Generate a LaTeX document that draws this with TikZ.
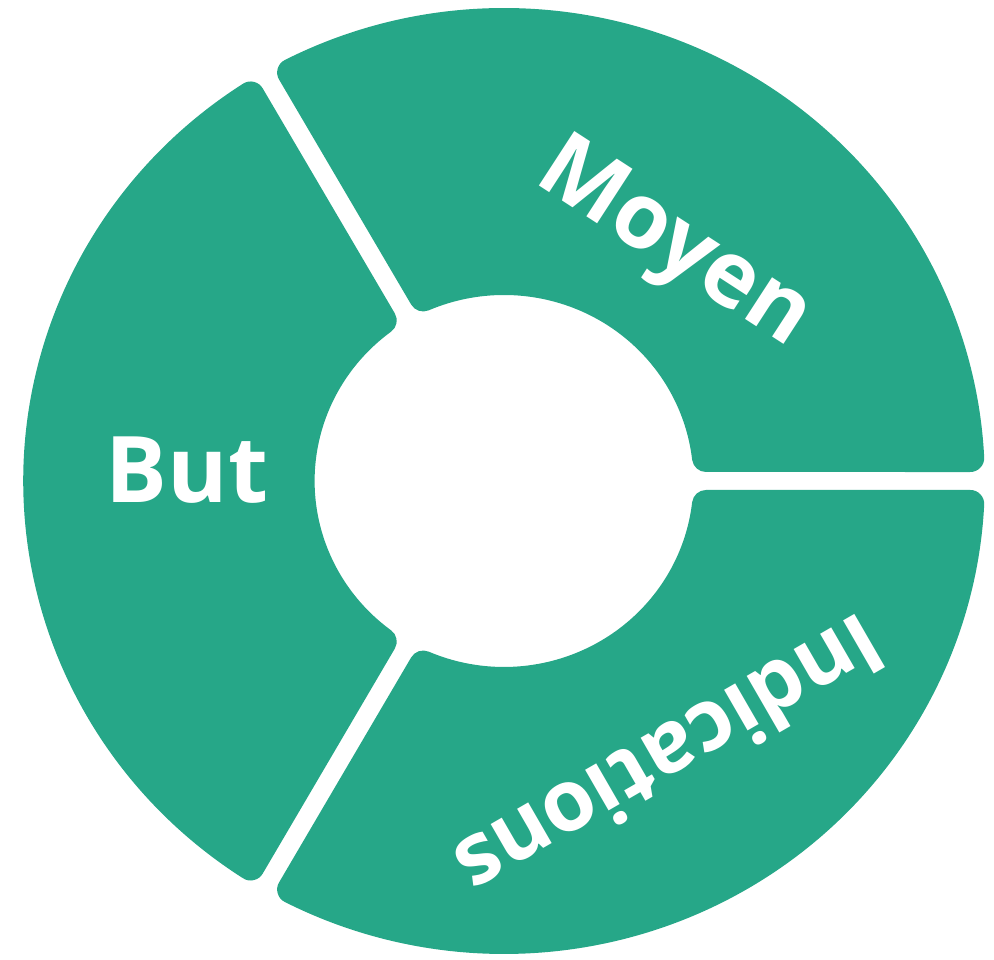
\documentclass[tikz,border=0pt]{standalone}
\usepackage{fontspec}
\setmainfont{Open Sans}
\definecolor{segcol}{RGB}{38,167,136}
\tikzset{
  segment/.style={fill=segcol, draw=segcol, line width=28pt, line join=round},
  lbl/.style={text=white, font=\fontsize{92}{92}\selectfont\bfseries, inner sep=0pt}
}
\def\Ro{459}
\def\Ri{200}
\def\dd{23}
\def\donutseg#1#2{%
  \path[segment] ({#1+asin(\dd/\Ro)}:\Ro)
    arc[start angle={#1+asin(\dd/\Ro)}, end angle={#2-asin(\dd/\Ro)}, radius=\Ro]
    -- ({#2-asin(\dd/\Ri)}:\Ri)
    arc[start angle={#2-asin(\dd/\Ri)}, end angle={#1+asin(\dd/\Ri)}, radius=\Ri]
    -- cycle;}
\begin{document}
\begin{tikzpicture}[x=1pt,y=1pt]
\useasboundingbox (0,0) rectangle (994,960);
\begin{scope}[shift={(504,479)}, xscale=1.017]
  \donutseg{0}{120}
  \donutseg{120}{240}
  \donutseg{240}{360}
\end{scope}
\node[lbl, anchor=base] (but) at (187,457) {But};
\node[lbl, anchor=base, rotate=-33, font=\fontsize{91}{91}\selectfont\bfseries] (moyen) at (661,695) {Moyen};
\node[lbl, anchor=base, rotate=210, font=\fontsize{86}{86}\selectfont\bfseries] (indic) at (655,230) {Indications};
\end{tikzpicture}
\end{document}
